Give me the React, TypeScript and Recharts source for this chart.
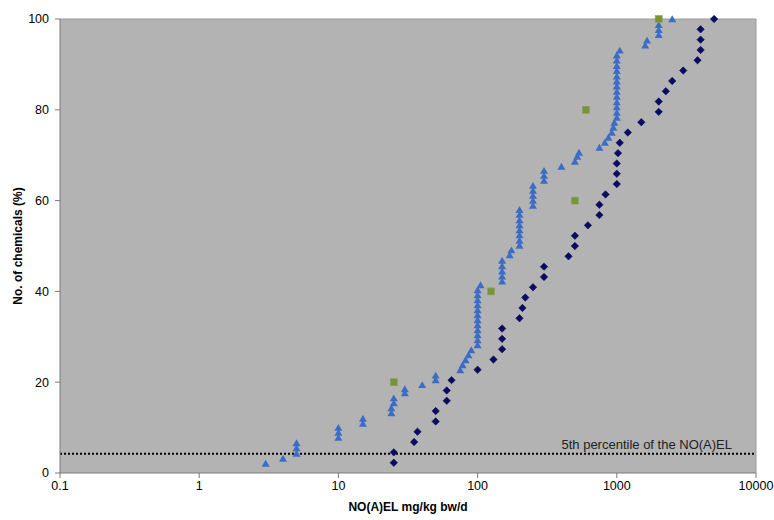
import React from 'react';
import { ScatterChart, Scatter, XAxis, YAxis, CartesianGrid, ReferenceLine, Label } from 'recharts';

// Series 1: blue triangles (dose mg/kg bw/d, cumulative %)
const triangleDose = [
  3, 4, 5, 5, 5, 10, 10, 10, 15, 15, 24, 24, 25, 25, 30, 30, 40, 50, 50,
  75, 78, 82, 86, 90,
  100, 100, 100, 100, 100, 100, 100, 100, 100, 100, 100, 100,
  105, 150, 150, 150, 150, 150, 170, 175,
  200, 200, 200, 200, 200, 200, 200, 200,
  250, 250, 250, 250, 250, 300, 300, 300, 400, 500, 520, 535,
  750, 820, 870, 920, 945, 960,
  1000, 1000, 1000, 1000, 1000, 1000, 1000, 1000, 1000, 1000, 1000, 1000, 1000,
  1050, 1600, 1650, 2000, 2000, 2000, 2500,
];
const trianglePct = [
  2.1, 3.2, 4.3, 5.5, 6.6, 7.8, 8.9, 10.0, 10.9, 12.0, 13.2, 14.3, 15.4, 16.5, 17.6, 18.5, 19.4, 20.5, 21.5,
  22.7, 23.8, 24.9, 26.0, 27.1,
  28.2, 29.3, 30.4, 31.5, 32.6, 33.7, 34.8, 35.9, 37.0, 38.1, 39.2, 40.3,
  41.4, 42.2, 43.3, 44.4, 45.6, 46.8, 48.0, 49.1,
  50.1, 51.2, 52.4, 53.5, 54.6, 55.7, 56.9, 58.0,
  58.9, 60.0, 61.1, 62.2, 63.3, 64.4, 65.5, 66.6, 67.5, 68.6, 69.7, 70.6,
  71.7, 72.8, 73.9, 75.0, 76.1, 77.2,
  78.3, 79.4, 80.6, 81.7, 82.9, 84.0, 85.2, 86.3, 87.4, 88.6, 89.7, 90.9, 92.0,
  93.1, 94.2, 95.3, 96.5, 97.6, 98.7, 100,
];

// Series 2: navy diamonds
const diamondDose = [
  25, 25, 35, 37, 50, 50, 60, 60, 65, 100, 130, 150, 150, 150, 200, 210, 220, 250, 300, 300,
  450, 500, 500, 620, 750, 750, 830, 1000, 1000, 1000, 1020, 1050, 1200, 1500, 2000, 2000,
  2250, 2500, 3000, 3800, 4000, 4000, 4000, 5000,
];
const diamondPct = [
  2.27, 4.55, 6.82, 9.09, 11.36, 13.64, 15.91, 18.18, 20.45, 22.73, 25.0, 27.27, 29.55, 31.82, 34.09, 36.36, 38.64, 40.91, 43.18, 45.45,
  47.73, 50.0, 52.27, 54.55, 56.82, 59.09, 61.36, 63.64, 65.91, 68.18, 70.45, 72.73, 75.0, 77.27, 79.55, 81.82,
  84.09, 86.36, 88.64, 90.91, 93.18, 95.45, 97.73, 100,
];

// Series 3: green squares
const squareDose = [25, 125, 500, 600, 2000];
const squarePct = [20, 40, 60, 80, 100];

const xTicks = [0.1, 1, 10, 100, 1000, 10000];
const yTicks = [0, 20, 40, 60, 80, 100];
const percentileValue = 4.25;
const percentileText = '5th percentile of the NO(A)EL';
const xTitle = 'NO(A)EL mg/kg bw/d';
const yTitle = 'No. of chemicals (%)';

const triangleData = triangleDose.map((x, i) => ({ x, y: trianglePct[i] }));
const diamondData = diamondDose.map((x, i) => ({ x, y: diamondPct[i] }));
const squareData = squareDose.map((x, i) => ({ x, y: squarePct[i] }));

const FONT = '"Liberation Sans", Arial, sans-serif';

const TriangleShape = (p: any) => {
  const { cx, cy } = p;
  if (cx == null || cy == null) return null;
  return <path d={`M${cx},${cy - 3.7}L${cx + 4},${cy + 3.2}L${cx - 4},${cy + 3.2}Z`} fill="#3b6cc6" />;
};
const DiamondShape = (p: any) => {
  const { cx, cy } = p;
  if (cx == null || cy == null) return null;
  const r = 3.7;
  return <path d={`M${cx},${cy - r}L${cx + r},${cy}L${cx},${cy + r}L${cx - r},${cy}Z`} fill="#0a0a60" stroke="#0a0a60" strokeWidth={0.6} strokeLinejoin="round" />;
};
const SquareShape = (p: any) => {
  const { cx, cy } = p;
  if (cx == null || cy == null) return null;
  return <rect x={cx - 3.5} y={cy - 3.5} width={7} height={7} fill="#77933c" stroke="#8aa553" strokeWidth={0.6} />;
};

export default function App() {
  return (
    <div style={{ position: 'absolute', left: 0, top: 0, width: 774, height: 520, background: '#fff' }}>
      <ScatterChart width={774} height={520} margin={{ top: 19, right: 18, bottom: 0, left: 0 }}>
        <CartesianGrid horizontal={false} vertical={false} fill="#b3b3b3" fillOpacity={1} stroke="none" />
        <XAxis
          type="number"
          dataKey="x"
          scale="log"
          domain={[0.1, 10000]}
          ticks={xTicks}
          allowDataOverflow
          height={47}
          tickSize={5}
          tickMargin={3}
          axisLine={{ stroke: '#7a7a7a' }}
          tickLine={{ stroke: '#7a7a7a' }}
          tick={{ fill: '#000', fontSize: 12.5, fontFamily: FONT }}
          tickFormatter={(v: number) => String(v)}
        >
          <Label
            content={() => (
              <text x={408} y={511} textAnchor="middle" fontFamily={FONT} fontSize={12} fontWeight="bold" fill="#000">
                {xTitle}
              </text>
            )}
          />
        </XAxis>
        <YAxis
          type="number"
          dataKey="y"
          domain={[0, 100]}
          ticks={yTicks}
          width={60}
          tickSize={5}
          tickMargin={6}
          axisLine={{ stroke: '#7a7a7a' }}
          tickLine={{ stroke: '#7a7a7a' }}
          tick={{ fill: '#000', fontSize: 12.5, fontFamily: FONT }}
        >
          <Label
            content={() => (
              <text x={22} y={246} transform="rotate(-90 22 246)" textAnchor="middle" fontFamily={FONT} fontSize={12} fontWeight="bold" fill="#000">
                {yTitle}
              </text>
            )}
          />
        </YAxis>
        <ReferenceLine y={100} stroke="#9c9c9c" strokeWidth={1} />
        <ReferenceLine x={10000} stroke="#9c9c9c" strokeWidth={1} />
        <ReferenceLine
          y={percentileValue}
          stroke="#000"
          strokeWidth={2}
          strokeDasharray="2 2"
          label={{
            content: (props: any) => {
              const vb = props.viewBox || {};
              return (
                <text x={(vb.x || 0) + (vb.width || 0) - 24} y={(vb.y || 0) - 5} textAnchor="end" fontFamily={FONT} fontSize={13} fill="#222">
                  {percentileText}
                </text>
              );
            },
          }}
        />
        <Scatter data={triangleData} shape={TriangleShape} isAnimationActive={false} />
        <Scatter data={diamondData} shape={DiamondShape} isAnimationActive={false} />
        <Scatter data={squareData} shape={SquareShape} isAnimationActive={false} />
      </ScatterChart>
    </div>
  );
}
